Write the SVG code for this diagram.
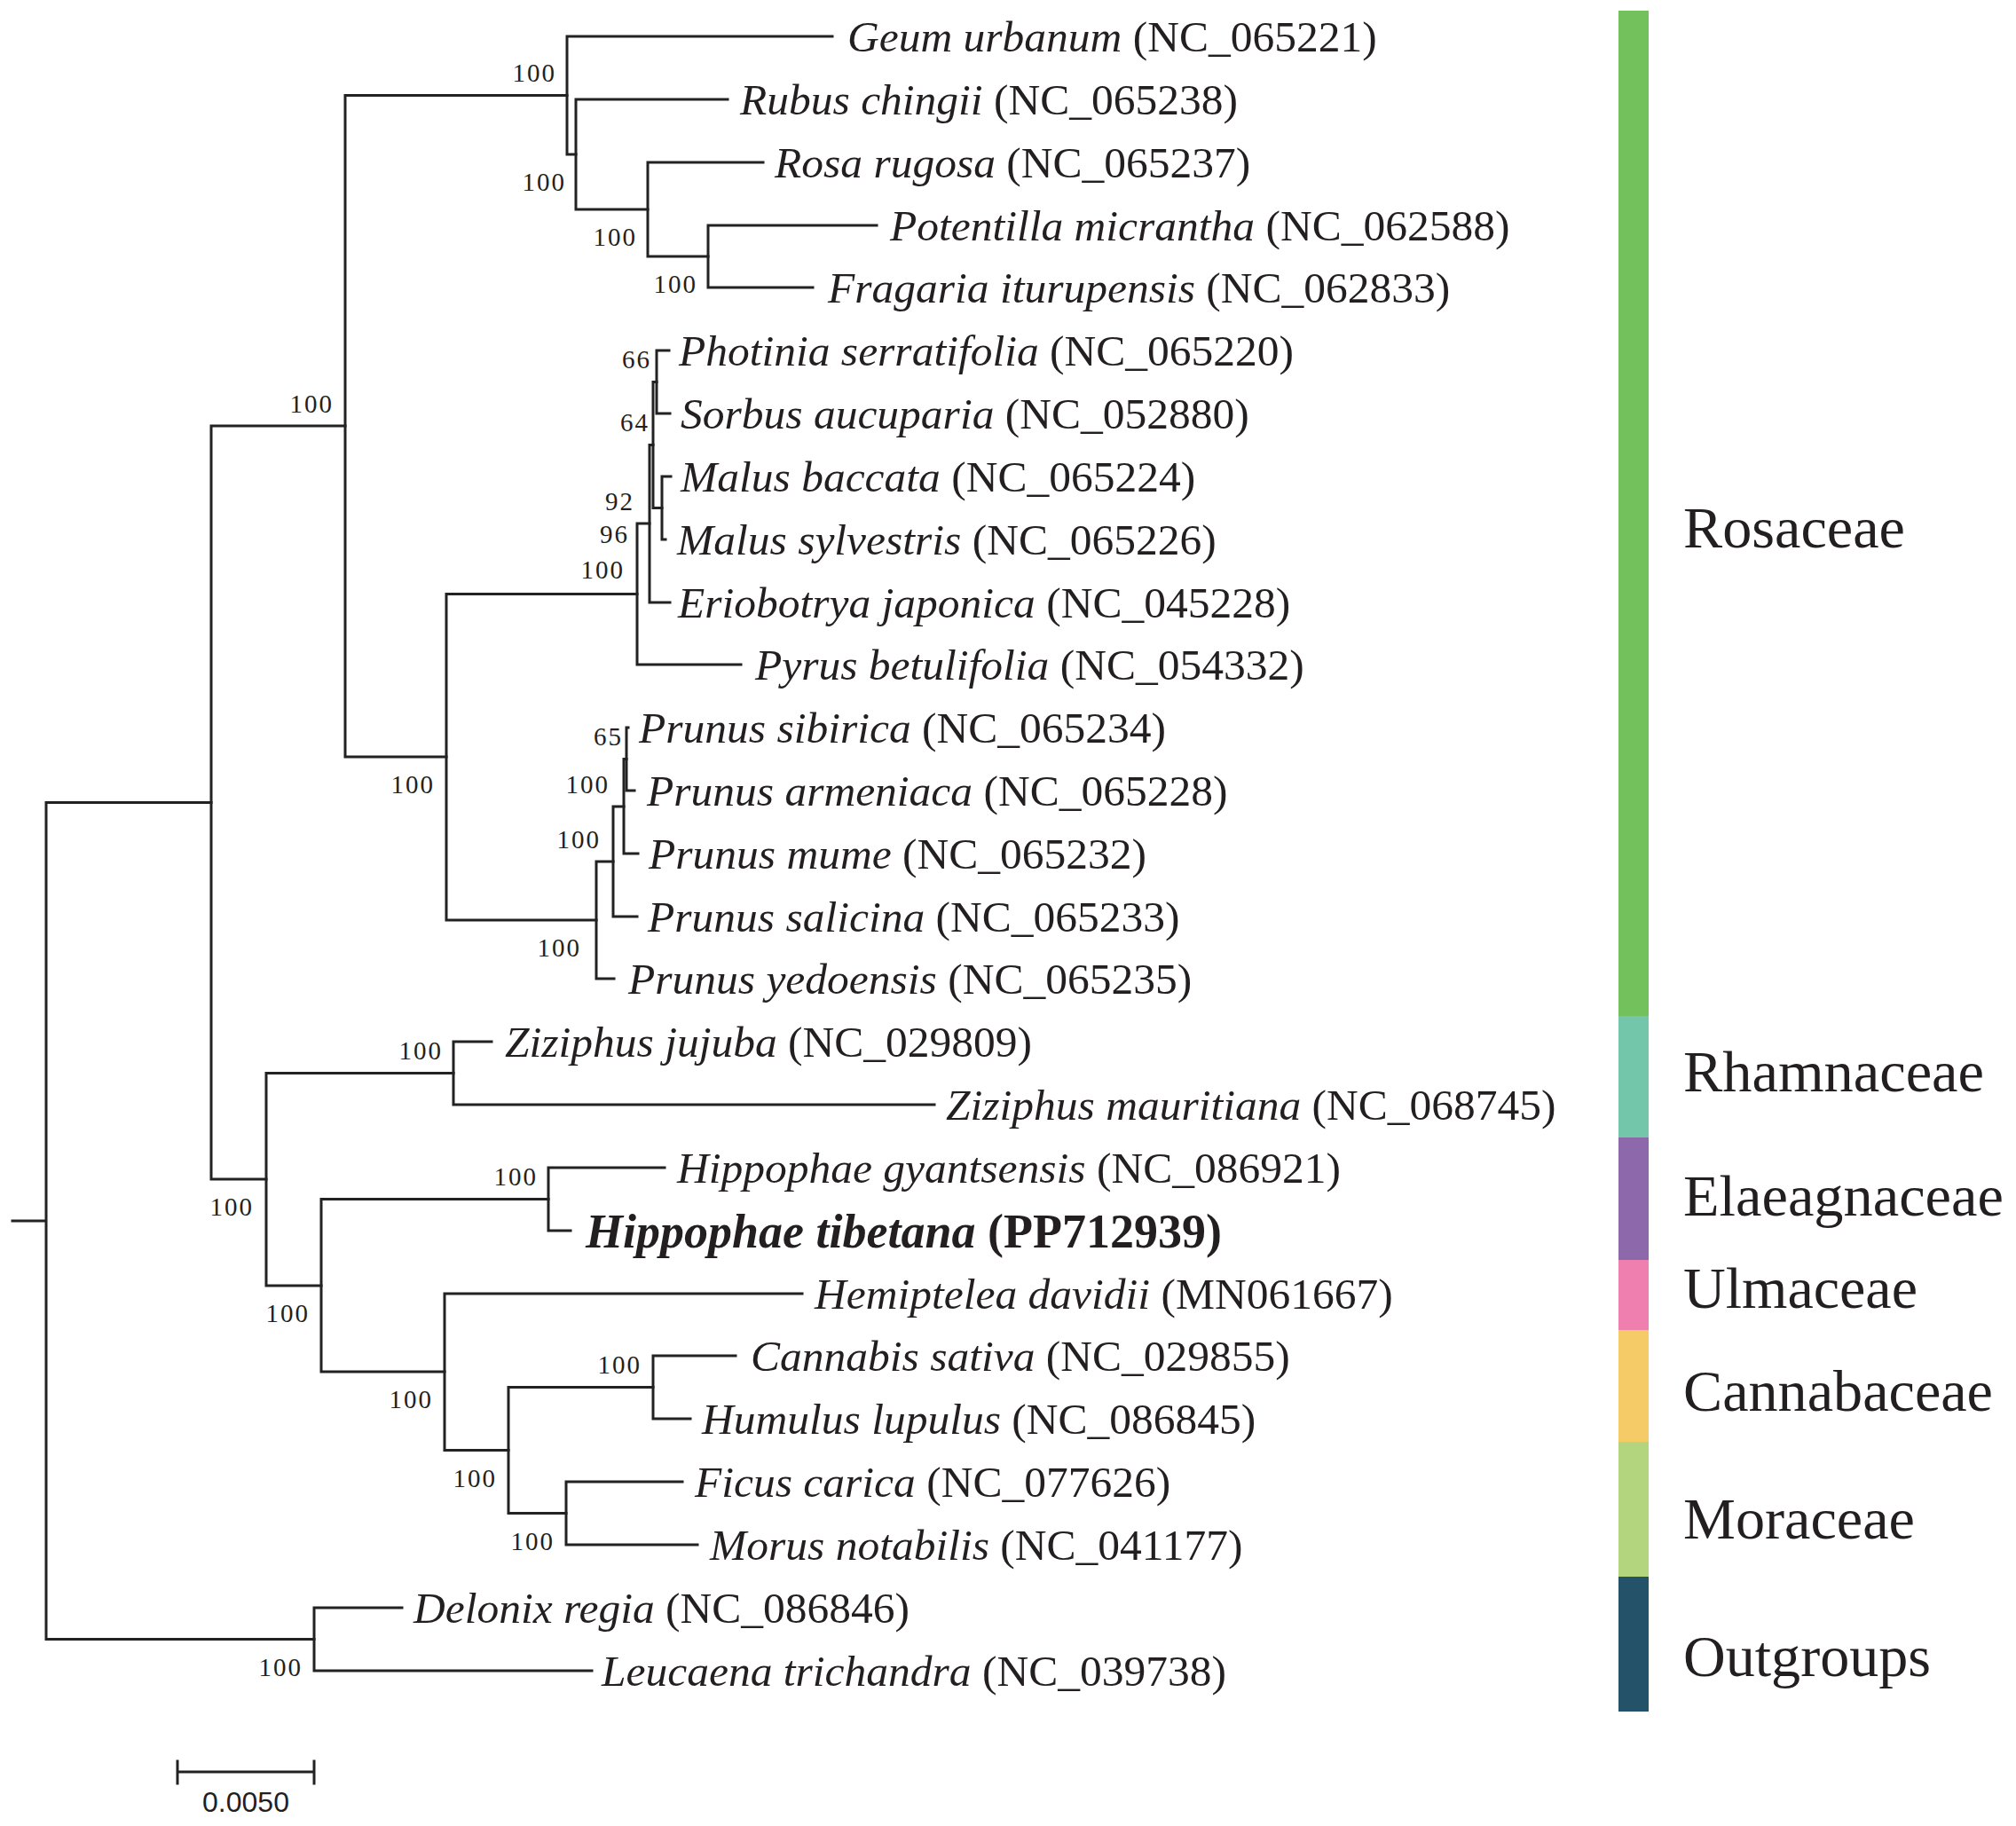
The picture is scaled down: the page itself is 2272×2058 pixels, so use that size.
<svg xmlns="http://www.w3.org/2000/svg" width="2272" height="2058" viewBox="0 0 2272 2058">
<style>
.br{fill:none;stroke:#222;stroke-width:3;stroke-linecap:square}
.tip{font-family:"Liberation Serif","Times New Roman",serif;font-size:49.5px;fill:#231f20}
.sp{font-style:italic}
.bold{font-weight:bold;font-size:54px}
.bs{font-family:"Liberation Serif","Times New Roman",serif;font-size:29px;fill:#231f20;text-anchor:end;letter-spacing:2px}
.fam{font-family:"Liberation Serif","Times New Roman",serif;font-size:65px;fill:#231f20}
.sc{font-family:"Liberation Sans",Arial,sans-serif;font-size:32px;fill:#231f20;text-anchor:middle}
</style>
<rect width="2272" height="2058" fill="#fff"/>
<g id="connectors" class="br">
<path d="M14 1376H52M52 904.5V1847.5M52 904.5H238M52 1847.5H354"/>
<path d="M238 480V1329M238 480H389M238 1329H300"/>
<path d="M389 107.5V853M389 107.5H639M389 853H503"/>
<path d="M639 41V174M639 41H938M639 174H649"/>
<path d="M649 112V236M649 112H820M649 236H730"/>
<path d="M730 183V289M730 183H860M730 289H798"/>
<path d="M798 254V324M798 254H988M798 324H916"/>
<path d="M503 669.5V1037M503 669.5H718M503 1037H672"/>
<path d="M718 590V749M718 590H732M718 749H835"/>
<path d="M732 501.5V679M732 501.5H736M732 679H755"/>
<path d="M736 430.5V572.5M736 430.5H740M736 572.5H746"/>
<path d="M740 395V466M740 395H754M740 466H755"/>
<path d="M746 537V608M746 537H756M746 608H750"/>
<path d="M672 971V1103M672 971H691M672 1103H692"/>
<path d="M691 909V1033M691 909H703M691 1033H718"/>
<path d="M703 855.5V962M703 855.5H706M703 962H719"/>
<path d="M706 820V891M706 820H708M706 891H715"/>
<path d="M300 1209.5V1449M300 1209.5H511M300 1449H362"/>
<path d="M511 1174V1245M511 1174H554M511 1245H1053"/>
<path d="M362 1351.5V1546M362 1351.5H618M362 1546H501"/>
<path d="M618 1316V1387M618 1316H749M618 1387H643"/>
<path d="M501 1458V1634.5M501 1458H904M501 1634.5H573"/>
<path d="M573 1563.5V1705.5M573 1563.5H736M573 1705.5H638"/>
<path d="M736 1528V1599M736 1528H829M736 1599H778"/>
<path d="M638 1670V1741M638 1670H769M638 1741H786"/>
<path d="M354 1812V1883M354 1812H453M354 1883H667"/>
</g>
<g id="support">
<text class="bs" x="376" y="465">100</text>
<text class="bs" x="627" y="92">100</text>
<text class="bs" x="638" y="215">100</text>
<text class="bs" x="718" y="277">100</text>
<text class="bs" x="786" y="330">100</text>
<text class="bs" x="734" y="415">66</text>
<text class="bs" x="732" y="486">64</text>
<text class="bs" x="715" y="575">92</text>
<text class="bs" x="709" y="612">96</text>
<text class="bs" x="704" y="652">100</text>
<text class="bs" x="490" y="894">100</text>
<text class="bs" x="702" y="840">65</text>
<text class="bs" x="687" y="894">100</text>
<text class="bs" x="677" y="956">100</text>
<text class="bs" x="655" y="1078">100</text>
<text class="bs" x="499" y="1194">100</text>
<text class="bs" x="286" y="1370">100</text>
<text class="bs" x="606" y="1336">100</text>
<text class="bs" x="349" y="1490">100</text>
<text class="bs" x="488" y="1587">100</text>
<text class="bs" x="560" y="1676">100</text>
<text class="bs" x="723" y="1548">100</text>
<text class="bs" x="625" y="1747">100</text>
<text class="bs" x="341" y="1889">100</text>
</g>
<g id="tips" class="tip">
<g id="t0"><text x="955" y="58"><tspan class="sp">Geum urbanum</tspan> (NC_065221)</text></g>
<g id="t1"><text x="834" y="129"><tspan class="sp">Rubus chingii</tspan> (NC_065238)</text></g>
<g id="t2"><text x="873" y="200"><tspan class="sp">Rosa rugosa</tspan> (NC_065237)</text></g>
<g id="t3"><text x="1003" y="271"><tspan class="sp">Potentilla micrantha</tspan> (NC_062588)</text></g>
<g id="t4"><text x="933" y="341"><tspan class="sp">Fragaria iturupensis</tspan> (NC_062833)</text></g>
<g id="t5"><text x="765" y="412"><tspan class="sp">Photinia serratifolia</tspan> (NC_065220)</text></g>
<g id="t6"><text x="767" y="483"><tspan class="sp">Sorbus aucuparia</tspan> (NC_052880)</text></g>
<g id="t7"><text x="767" y="554"><tspan class="sp">Malus baccata</tspan> (NC_065224)</text></g>
<g id="t8"><text x="763" y="625"><tspan class="sp">Malus sylvestris</tspan> (NC_065226)</text></g>
<g id="t9"><text x="764" y="696"><tspan class="sp">Eriobotrya japonica</tspan> (NC_045228)</text></g>
<g id="t10"><text x="851" y="766"><tspan class="sp">Pyrus betulifolia</tspan> (NC_054332)</text></g>
<g id="t11"><text x="720" y="837"><tspan class="sp">Prunus sibirica</tspan> (NC_065234)</text></g>
<g id="t12"><text x="729" y="908"><tspan class="sp">Prunus armeniaca</tspan> (NC_065228)</text></g>
<g id="t13"><text x="731" y="979"><tspan class="sp">Prunus mume</tspan> (NC_065232)</text></g>
<g id="t14"><text x="730" y="1050"><tspan class="sp">Prunus salicina</tspan> (NC_065233)</text></g>
<g id="t15"><text x="708" y="1120"><tspan class="sp">Prunus yedoensis</tspan> (NC_065235)</text></g>
<g id="t16"><text x="569" y="1191"><tspan class="sp">Ziziphus jujuba</tspan> (NC_029809)</text></g>
<g id="t17"><text x="1066" y="1262"><tspan class="sp">Ziziphus mauritiana</tspan> (NC_068745)</text></g>
<g id="t18"><text x="763" y="1333"><tspan class="sp">Hippophae gyantsensis</tspan> (NC_086921)</text></g>
<g id="t19"><text class="bold" x="660" y="1406"><tspan class="sp">Hippophae tibetana</tspan> (PP712939)</text></g>
<g id="t20"><text x="918" y="1475"><tspan class="sp">Hemiptelea davidii</tspan> (MN061667)</text></g>
<g id="t21"><text x="846" y="1545"><tspan class="sp">Cannabis sativa</tspan> (NC_029855)</text></g>
<g id="t22"><text x="791" y="1616"><tspan class="sp">Humulus lupulus</tspan> (NC_086845)</text></g>
<g id="t23"><text x="783" y="1687"><tspan class="sp">Ficus carica</tspan> (NC_077626)</text></g>
<g id="t24"><text x="800" y="1758"><tspan class="sp">Morus notabilis</tspan> (NC_041177)</text></g>
<g id="t25"><text x="466" y="1829"><tspan class="sp">Delonix regia</tspan> (NC_086846)</text></g>
<g id="t26"><text x="678" y="1900"><tspan class="sp">Leucaena trichandra</tspan> (NC_039738)</text></g>
</g>
<g id="families">
<g id="fam-rosaceae"><rect x="1824" y="12" width="34" height="1133" fill="#72c15d"/><text class="fam" x="1897" y="617" textLength="250" lengthAdjust="spacingAndGlyphs">Rosaceae</text></g>
<g id="fam-rhamnaceae"><rect x="1824" y="1145" width="34" height="137" fill="#73c6a9"/><text class="fam" x="1897" y="1230" textLength="339" lengthAdjust="spacingAndGlyphs">Rhamnaceae</text></g>
<g id="fam-elaeagnaceae"><rect x="1824" y="1282" width="34" height="138" fill="#8d68ab"/><text class="fam" x="1897" y="1370" textLength="361" lengthAdjust="spacingAndGlyphs">Elaeagnaceae</text></g>
<g id="fam-ulmaceae"><rect x="1824" y="1420" width="34" height="79" fill="#ef7fae"/><text class="fam" x="1897" y="1474" textLength="264" lengthAdjust="spacingAndGlyphs">Ulmaceae</text></g>
<g id="fam-cannabaceae"><rect x="1824" y="1499" width="34" height="126" fill="#f4cb67"/><text class="fam" x="1897" y="1590" textLength="349" lengthAdjust="spacingAndGlyphs">Cannabaceae</text></g>
<g id="fam-moraceae"><rect x="1824" y="1625" width="34" height="152" fill="#b3d57e"/><text class="fam" x="1897" y="1734" textLength="261" lengthAdjust="spacingAndGlyphs">Moraceae</text></g>
<g id="fam-outgroups"><rect x="1824" y="1777" width="34" height="152" fill="#245369"/><text class="fam" x="1897" y="1889" textLength="279" lengthAdjust="spacingAndGlyphs">Outgroups</text></g>
</g>
<g id="scalebar">
<path class="br" d="M200 1997H354M200 1985V2010M354 1985V2010"/>
<text class="sc" x="277" y="2042">0.0050</text>
</g>
</svg>
